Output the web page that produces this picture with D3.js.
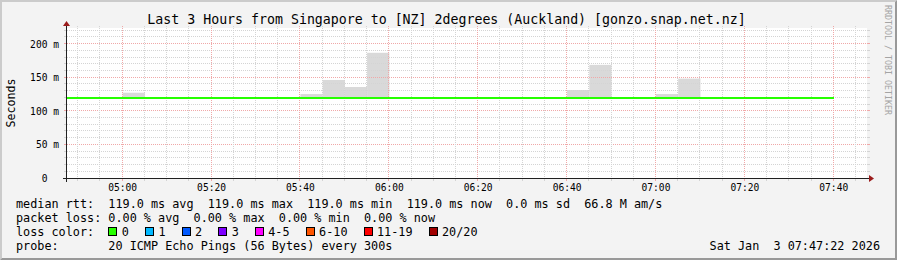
<!DOCTYPE html>
<html>
<head>
<meta charset="utf-8">
<script src="https://cdn.jsdelivr.net/npm/d3@7"></script>
<style>
  body { margin: 0; background: #f3f3f3; }
  svg { display: block; }
  text { font-family: "DejaVu Sans Mono", monospace; white-space: pre; fill: #000; }
</style>
</head>
<body>
<svg id="chart" width="897" height="260"></svg>
<script>
// ---- data ----
const title = "Last 3 Hours from Singapore to [NZ] 2degrees (Auckland) [gonzo.snap.net.nz]";
const stepEnds = ["04:50","04:55","05:00","05:05","05:10","05:15","05:20","05:25","05:30","05:35",
                  "05:40","05:45","05:50","05:55","06:00","06:05","06:10","06:15","06:20","06:25",
                  "06:30","06:35","06:40","06:45","06:50","06:55","07:00","07:05","07:10","07:15",
                  "07:20","07:25","07:30","07:35","07:40"];
const medianMs = [119,119,119,119,119,119,119,119,119,119,
                  119,119,119,119,119,119,119,119,119,119,
                  119,119,119,119,119,119,119,119,119,119,
                  119,119,119,119,119];
const smokeMaxMs = [119,119,119,127,119,119,119,119,119,119,
                    119,125,146,135.5,186.5,119,119,119,119,119,
                    119,119,119,131,168.5,119,119,125,148,119,
                    119,119,119,119,119];
const lossPct = [0,0,0,0,0,0,0,0,0,0,0,0,0,0,0,0,0,0,0,0,0,0,0,0,0,0,0,0,0,0,0,0,0,0,0];
const yTicks = [0, 50, 100, 150, 200];
const yTickLabels = ["0  ", "50 m", "100 m", "150 m", "200 m"];
const lossLabels = ["0", "1", "2", "3", "4-5", "6-10", "11-19", "20/20"];
const lossColors = ["#26ff00", "#00b8ff", "#0059ff", "#7e00ff", "#ff00ff", "#ff5500", "#ff0000", "#a10000"];
const amPerSec = "66.8 M";
const probeText = "20 ICMP Echo Pings (56 Bytes) every 300s";
const endTime = new Date(2026, 0, 3, 7, 47, 22);

// ---- layout ----
const W = 897, H = 260;
const X0 = 67, X1 = 867, Y0 = 178, Y1 = 28;
const svg = d3.select("#chart");

const parseStep = s => { const [h, m] = s.split(":").map(Number); return new Date(2026, 0, 3, h, m, 0); };
const steps = stepEnds.map((s, i) => ({ t: parseStep(s), median: medianMs[i], max: smokeMaxMs[i] }));

const x = d3.scaleTime().domain([new Date(+endTime - 3 * 3600 * 1000), endTime]).range([X0, X1]);
const y = d3.scaleLinear().domain([0, 223.4]).range([Y0, Y1]);

// background + 3d frame
svg.append("rect").attr("width", W).attr("height", H).attr("fill", "#f3f3f3");
svg.append("path").attr("d", "M0,0H897L895,2H2V258L0,260Z").attr("fill", "#cbcbcb");
svg.append("path").attr("d", "M897,0V260H0L2,258H895V2Z").attr("fill", "#999999");

// canvas
svg.append("rect").attr("x", X0).attr("y", Y1).attr("width", X1 - X0).attr("height", Y0 - Y1).attr("fill", "#fff");

svg.append("clipPath").attr("id", "plot")
  .append("rect").attr("x", X0).attr("y", Y1).attr("width", X1 - X0).attr("height", Y0 - Y1);

// smoke
svg.append("g").attr("clip-path", "url(#plot)")
  .selectAll("rect").data(steps.filter(d => d.max > d.median)).join("rect")
  .attr("x", d => x(new Date(+d.t - 300000)) - 0.5)
  .attr("width", d => x(d.t) - x(new Date(+d.t - 300000)))
  .attr("y", d => y(d.max))
  .attr("height", d => y(d.median) - y(d.max))
  .attr("fill", "#d9d9d9");

// grid
const minorCol = "#d4d4d4", majorCol = "#f0a8a8";
const grid = svg.append("g").attr("shape-rendering", "crispEdges");
const hVals = d3.range(10, 230, 10).filter(v => y(v) >= Y1);
hVals.forEach(v => {
  const yy = Math.floor(y(v)) + 0.5;
  const major = v % 50 === 0;
  const col = major ? majorCol : minorCol;
  grid.append("line").attr("x1", X0 - 2).attr("x2", X1 + 2).attr("y1", yy).attr("y2", yy)
    .attr("stroke", col).attr("stroke-dasharray", "1,1");
  grid.append("line").attr("x1", X0 - 3).attr("x2", X0 - 1).attr("y1", yy).attr("y2", yy).attr("stroke", col);
  grid.append("line").attr("x1", X1 + 1).attr("x2", X1 + 3).attr("y1", yy).attr("y2", yy).attr("stroke", col);
});
d3.timeMinute.every(5).range(x.domain()[0], x.domain()[1]).forEach(t => {
  const xx = Math.floor(x(t)) - 0.5;
  const major = t.getMinutes() % 20 === 0;
  const col = major ? majorCol : minorCol;
  grid.append("line").attr("x1", xx).attr("x2", xx).attr("y1", Y1 - 2).attr("y2", Y0 + 2)
    .attr("stroke", col).attr("stroke-dasharray", "1,1");
  grid.append("line").attr("x1", xx).attr("x2", xx).attr("y1", Y0 + 1).attr("y2", Y0 + 3).attr("stroke", col);
});

// median line
const medLine = d3.line().x(d => x(d.t)).y(d => Math.round(y(d.median))).curve(d3.curveStepBefore);
const medPts = [{ t: new Date(+steps[0].t - 300000), median: steps[0].median }].concat(steps);
svg.append("path").attr("clip-path", "url(#plot)")
  .attr("d", medLine(medPts)).attr("fill", "none")
  .attr("stroke", lossColors[0]).attr("stroke-width", 2).attr("shape-rendering", "crispEdges");

// axes lines + arrows
const axisCol = "#202020", arrowCol = "#9b1c1c";
svg.append("line").attr("x1", X0 - 4).attr("x2", X1 + 4).attr("y1", Y0 + 0.5).attr("y2", Y0 + 0.5)
  .attr("stroke", axisCol).attr("shape-rendering", "crispEdges");
svg.append("line").attr("x1", X0 - 0.5).attr("x2", X0 - 0.5).attr("y1", Y0 + 4).attr("y2", Y1 - 4)
  .attr("stroke", axisCol).attr("shape-rendering", "crispEdges");
svg.append("path").attr("d", `M${X1 + 2},${Y0 - 3}L${X1 + 2},${Y0 + 4}L${X1 + 7},${Y0 + 0.5}Z`).attr("fill", arrowCol);
svg.append("path").attr("d", `M${X0 - 4},${Y1 - 2}L${X0 + 3},${Y1 - 2}L${X0 - 0.5},${Y1 - 7}Z`).attr("fill", arrowCol);

// tick labels via d3 axes
const xAxis = d3.axisBottom(x)
  .ticks(d3.timeMinute.every(20))
  .tickFormat(d3.timeFormat("%H:%M"))
  .tickSize(0);
const gx = svg.append("g").attr("transform", `translate(0,${Y0})`).call(xAxis);
gx.select(".domain").remove();
gx.selectAll("text").attr("y", 13).attr("dy", null).attr("x", -1)
  .attr("font-size", "9.6px").attr("font-family", "DejaVu Sans Mono").attr("fill", "#000");

const yAxis = d3.axisLeft(y).tickValues(yTicks).tickFormat((d, i) => yTickLabels[i]).tickSize(0).tickPadding(8);
const gy = svg.append("g").attr("transform", `translate(${X0},0)`).call(yAxis);
gy.select(".domain").remove();
gy.selectAll("text").attr("dy", "0.36em").attr("font-size", "9.6px")
  .attr("font-family", "DejaVu Sans Mono").attr("fill", "#000").style("white-space", "pre");

// title & labels
svg.append("text").attr("x", 446.5).attr("y", 24).attr("text-anchor", "middle")
  .attr("font-size", "13.25px").text(title);
svg.append("text").attr("transform", `translate(15,${(Y0 + Y1) / 2}) rotate(-90)`)
  .attr("text-anchor", "middle").attr("font-size", "11.6px").text("Seconds");
svg.append("text").attr("transform", "translate(885,5) rotate(90)")
  .attr("font-size", "8.3px").style("fill", "#a4a4a4").text("RRDTOOL / TOBI OETIKER");

// legend
const f1 = d3.format(".1f"), f2 = d3.format(".2f");
const meds = steps.map(d => d.median);
const statLine = "median rtt:  " +
  `${f1(d3.mean(meds))} ms avg  ${f1(d3.max(meds))} ms max  ${f1(d3.min(meds))} ms min  ` +
  `${f1(meds[meds.length - 1])} ms now  ${f1(d3.deviation(meds) || 0)} ms sd  ${amPerSec} am/s`;
const lossLine = "packet loss: " +
  `${f2(d3.mean(lossPct))} % avg  ${f2(d3.max(lossPct))} % max  ${f2(d3.min(lossPct))} % min  ${f2(lossPct[lossPct.length - 1])} % now`;
const legFont = "11.8px";
const LX = 16;
[[statLine, 208], [lossLine, 222], ["loss color:", 236], ["probe:       " + probeText, 250]].forEach(([s, by]) => {
  svg.append("text").attr("x", LX).attr("y", by).attr("font-size", legFont).text(s);
});

// loss colour boxes
const charW = svg.append("text").attr("font-size", legFont).text("0000000000");
const cw = charW.node().getComputedTextLength() / 10;
charW.remove();
let bx = LX + 13 * cw;
lossLabels.forEach((lab, i) => {
  svg.append("rect").attr("x", Math.round(bx) + 0.5).attr("y", 227.5).attr("width", 8).attr("height", 8)
    .attr("fill", lossColors[i]).attr("stroke", "#000").attr("stroke-width", 1);
  const t = svg.append("text").attr("x", bx + 13.5).attr("y", 236).attr("font-size", legFont).text(lab);
  bx = bx + 13.5 + t.node().getComputedTextLength() + 16;
});

svg.append("text").attr("x", 880).attr("y", 250).attr("text-anchor", "end").attr("font-size", legFont)
  .text(d3.timeFormat("%a %b %e %H:%M:%S %Y")(endTime));
</script>
</body>
</html>
